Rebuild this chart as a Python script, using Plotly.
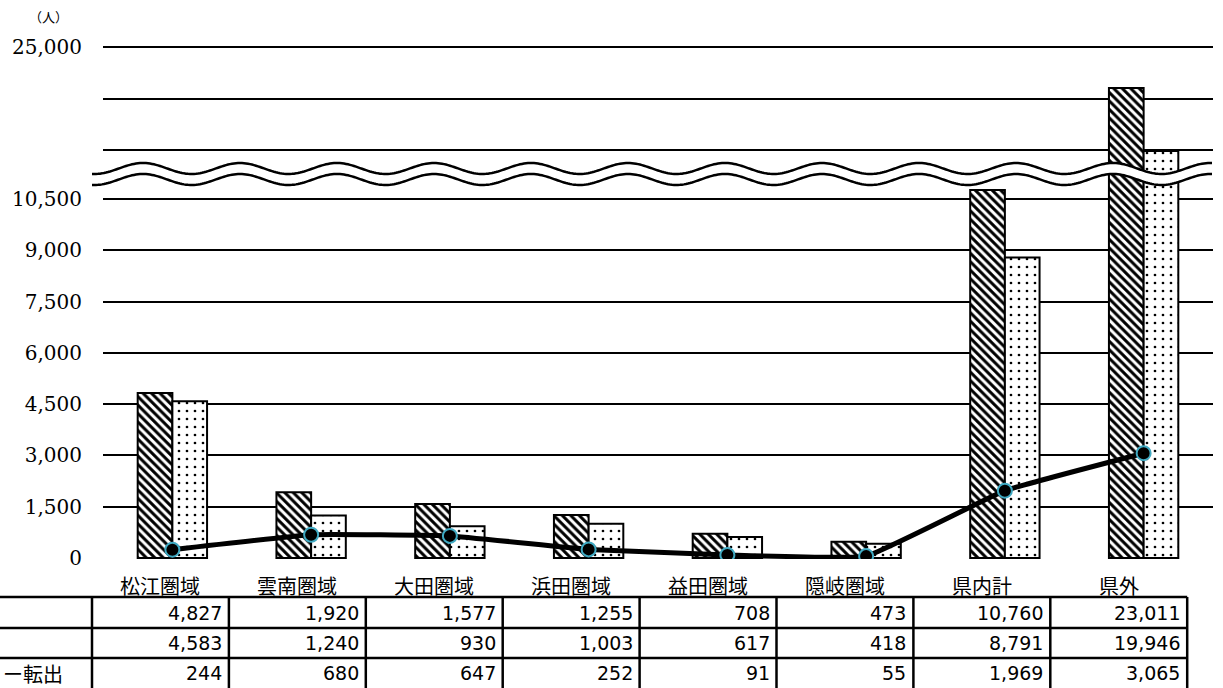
import numpy as np
import plotly.graph_objects as go

# ---- data ----
categories = ["松江圏域", "雲南圏域", "大田圏域", "浜田圏域", "益田圏域", "隠岐圏域", "県内計", "県外"]
tennyu = [4827, 1920, 1577, 1255, 708, 473, 10760, 23011]      # 転入
tenshutsu = [4583, 1240, 930, 1003, 617, 418, 8791, 19946]     # 転出
net = [244, 680, 647, 252, 91, 55, 1969, 3065]                 # 転入－転出
row_label_net = "ー転出"

lower_ticks = [0, 1500, 3000, 4500, 6000, 7500, 9000, 10500]
upper_ticks = [20000, 22500, 25000]
upper_ticktext = ["", "", "25,000"]

# ---- geometry (pixels) ----
W, H = 1223, 688
ML, MR, MT, MB = 103, 10, 45, 129
PW = W - ML - MR
PH = H - MT - MB
BREAK_PX = 175  # pixel row where the two y ranges meet


def xp(px):
    return (px - ML) / PW


def yp(py):
    return (H - MB - py) / PH


split = yp(BREAK_PX)

hatch = dict(shape="\\", fgcolor="black", bgcolor="white", size=6, solidity=0.5, fillmode="replace")
dots = dict(shape=".", fgcolor="black", bgcolor="white", size=8, solidity=0.09, fillmode="replace")

fig = go.Figure()
for yax in ["y", "y2"]:
    fig.add_trace(go.Bar(
        x=categories, y=tennyu, yaxis=yax, offsetgroup="a", showlegend=False,
        marker=dict(color="white", pattern=hatch, line=dict(color="black", width=2)),
    ))
    fig.add_trace(go.Bar(
        x=categories, y=tenshutsu, yaxis=yax, offsetgroup="b", showlegend=False,
        marker=dict(color="white", pattern=dots, line=dict(color="black", width=2)),
    ))

fig.add_trace(go.Scatter(
    x=categories, y=net, yaxis="y", mode="lines+markers", showlegend=False,
    line=dict(color="black", width=5, shape="spline", smoothing=0.3),
    marker=dict(size=14, color="black", line=dict(color="#3fa9c2", width=2)),
))

# lower scale: 1500 per 51.29 px
lo_per_px = 1500 / 51.286
lo_range = [-lo_per_px, 10500 + (199 - BREAK_PX) * lo_per_px]
# upper scale: 2500 per 51.5 px, 25,000 sits on pixel row 47
up_per_px = 2500 / 51.5
up_range = [25000 - (BREAK_PX - 47) * up_per_px, 25000 + (47 - MT) * up_per_px]

axis_font = dict(family="DejaVu Serif", size=20, color="black")

fig.update_layout(
    width=W, height=H,
    margin=dict(l=ML, r=MR, t=MT, b=MB),
    paper_bgcolor="white", plot_bgcolor="white",
    barmode="group", bargap=0.5, bargroupgap=0,
    xaxis=dict(range=[-0.5, 7.5], showticklabels=False, showgrid=False,
               zeroline=False, showline=False, ticks=""),
    yaxis=dict(domain=[0, split], range=lo_range, tickvals=lower_ticks,
               ticktext=[f"{v:,}" for v in lower_ticks], showgrid=True,
               gridcolor="black", gridwidth=2, zeroline=False, showline=False,
               tickfont=axis_font, ticklabelstandoff=20),
    yaxis2=dict(domain=[split, 1], range=up_range, tickvals=upper_ticks,
                ticktext=upper_ticktext, showgrid=True, gridcolor="black",
                gridwidth=2, zeroline=False, showline=False, anchor="x",
                tickfont=axis_font, ticklabelstandoff=20),
)

shapes = []

# ---- wavy break band ----
wx = np.arange(92, 1214, 2.0)
top = 168.5 - 5.5 * np.cos(2 * np.pi * (wx - 143) / 97)
bot = top + 11


def path_of(xs, ys, close=False):
    pts = [f"{xp(a):.5f},{yp(b):.5f}" for a, b in zip(xs, ys)]
    d = "M" + " L".join(pts)
    return d + " Z" if close else d


band = path_of(np.concatenate([wx, wx[::-1]]), np.concatenate([top, bot[::-1]]), close=True)
shapes.append(dict(type="path", path=band, xref="paper", yref="paper",
                   fillcolor="white", line=dict(width=0), layer="above"))
for curve in (top, bot):
    shapes.append(dict(type="path", path=path_of(wx, curve), xref="paper", yref="paper",
                       line=dict(color="black", width=2.5), layer="above"))

# ---- data table ----
col_left = 92
col_w = 136.9
n = len(categories)
col_edges = [col_left + i * col_w for i in range(n + 1)]
row_lines = [597, 628, 658]
for ry in row_lines:
    shapes.append(dict(type="line", xref="paper", yref="paper",
                       x0=xp(0), x1=xp(col_edges[-1]), y0=yp(ry), y1=yp(ry),
                       line=dict(color="black", width=2.5)))
for cx in col_edges:
    shapes.append(dict(type="line", xref="paper", yref="paper",
                       x0=xp(cx), x1=xp(cx), y0=yp(597), y1=yp(H + 5),
                       line=dict(color="black", width=2.5)))

annotations = []
cat_font = dict(family="Noto Sans CJK JP", size=20, color="black")
num_font = dict(family="DejaVu Sans", size=19, color="black")
for i, cat in enumerate(categories):
    cx = col_edges[i] + col_w / 2
    annotations.append(dict(text=cat, x=xp(cx), y=yp(585), xref="paper", yref="paper",
                            xanchor="center", yanchor="middle", showarrow=False, font=cat_font))
    for row_y, series in zip([613, 643, 673], [tennyu, tenshutsu, net]):
        annotations.append(dict(text=f"{series[i]:,}", x=xp(col_edges[i + 1] - 5), y=yp(row_y),
                                xref="paper", yref="paper", xanchor="right", yanchor="middle",
                                showarrow=False, font=num_font))

annotations.append(dict(text=row_label_net, x=xp(1), y=yp(673), xref="paper", yref="paper",
                        xanchor="left", yanchor="middle", showarrow=False, font=cat_font))
annotations.append(dict(text="（人）", x=xp(48), y=yp(17), xref="paper", yref="paper",
                        xanchor="center", yanchor="middle", showarrow=False,
                        font=dict(family="Noto Sans CJK JP", size=13, color="black")))

fig.update_layout(shapes=shapes, annotations=annotations)
fig.write_html("out.html")
